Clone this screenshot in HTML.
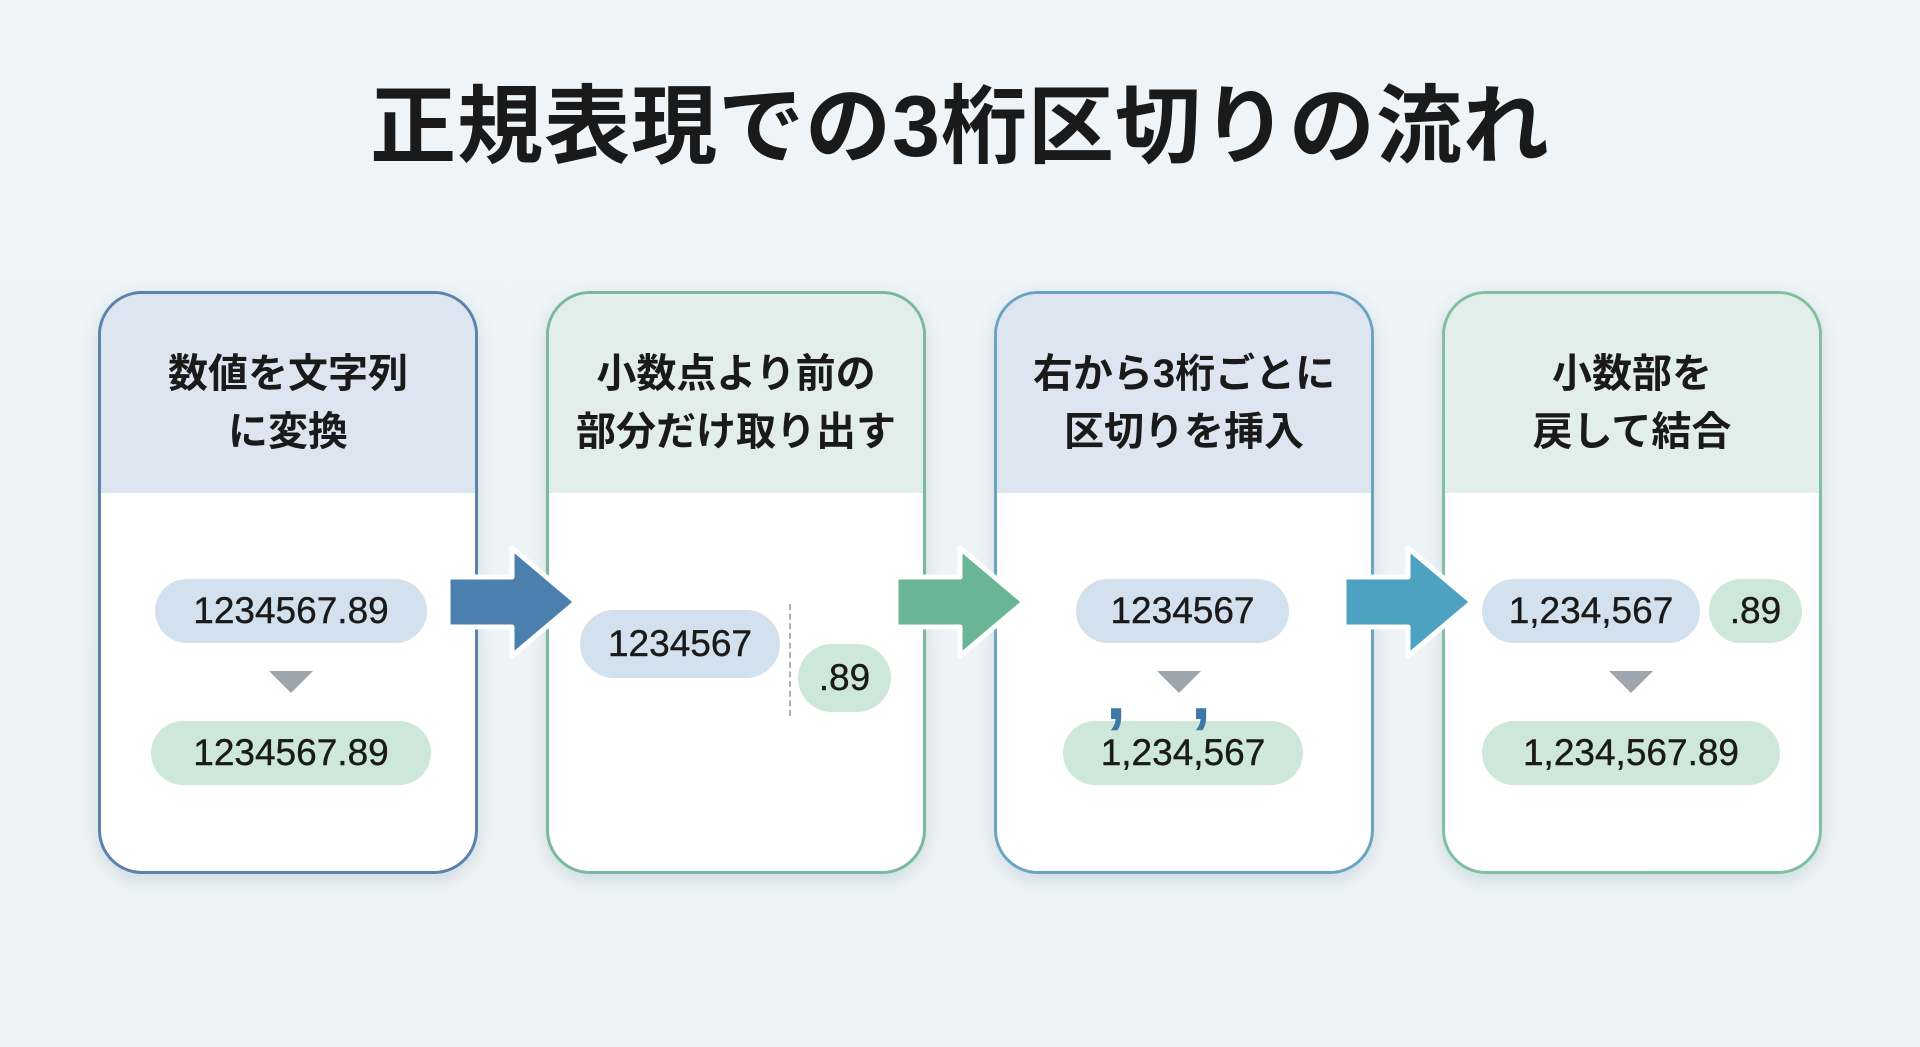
<!DOCTYPE html>
<html><head><meta charset="utf-8"><style>
*{margin:0;padding:0;box-sizing:border-box}
body{width:1920px;height:1047px;background:linear-gradient(180deg,#eef4f7,#ecf3f6);font-family:"Liberation Sans","Noto Sans CJK JP",sans-serif;position:relative;overflow:hidden;color:#1a1a1a}
.title{position:absolute;top:56px;left:0;width:1920px;text-align:center;font-size:86px;font-weight:bold;letter-spacing:1px}
.card{position:absolute;top:291px;width:380px;height:583px;border-radius:44px;border:3px solid;background:#fff;overflow:hidden;box-shadow:0 6px 16px rgba(80,110,130,.18)}
.hd{height:199px;display:flex;align-items:center;justify-content:center;text-align:center;font-size:40px;font-weight:bold;line-height:58px;padding-top:18px}
.pill{position:absolute;height:64px;border-radius:32px;display:flex;align-items:center;justify-content:center;font-size:37px;color:#1a1a1a;-webkit-text-stroke:0.4px #1a1a1a}
.b{background:#d3e1ee}.g{background:#cde8da}
.tri{position:absolute;width:0;height:0;border-left:22px solid transparent;border-right:22px solid transparent;border-top:22px solid #9ea6ad}
.arr{position:absolute;top:542px}
.cm{position:absolute;font-size:72px;font-weight:bold;color:#3f77a6;line-height:1}
</style></head><body>
<div class="title">正規表現での3桁区切りの流れ</div>

<div class="card" style="left:98px;border-color:#5a82aa">
<div class="hd" style="background:#dde6f0">数値を文字列<br>に変換</div>
<div class="pill b" style="left:54px;top:285px;width:272px">1234567.89</div>
<div class="tri" style="left:168px;top:377px"></div>
<div class="pill g" style="left:50px;top:427px;width:280px">1234567.89</div>
</div>

<div class="card" style="left:546px;border-color:#7ab8a0">
<div class="hd" style="background:#e2eee9">小数点より前の<br>部分だけ取り出す</div>
<div class="pill b" style="left:31px;top:316px;width:200px;height:68px;border-radius:34px">1234567</div>
<div style="position:absolute;left:240px;top:310px;height:112px;border-left:2px dashed #aab2b8"></div>
<div class="pill g" style="left:249px;top:350px;width:93px;height:68px;border-radius:34px">.89</div>
</div>

<div class="card" style="left:994px;border-color:#6aa5bf">
<div class="hd" style="background:#dde6f0">右から3桁ごとに<br>区切りを挿入</div>
<div class="pill b" style="left:79px;top:285px;width:213px">1234567</div>
<div class="tri" style="left:160px;top:377px"></div>
<div class="pill g" style="left:66px;top:427px;width:240px">1,234,567</div>
<div class="cm" style="left:109px;top:365px">,</div>
<div class="cm" style="left:194px;top:365px">,</div>
</div>

<div class="card" style="left:1442px;border-color:#80bfa0">
<div class="hd" style="background:#e2eee9">小数部を<br>戻して結合</div>
<div class="pill b" style="left:37px;top:285px;width:218px">1,234,567</div>
<div class="pill g" style="left:264px;top:285px;width:93px">.89</div>
<div class="tri" style="left:164px;top:377px"></div>
<div class="pill g" style="left:37px;top:427px;width:298px">1,234,567.89</div>
</div>

<svg class="arr" style="left:440px" width="150" height="120" viewBox="0 0 150 120"><path d="M8 35H72V6L136 60L72 114V85H8Z" fill="#4a7fae" stroke="#fff" stroke-width="5" stroke-linejoin="round"/></svg>
<svg class="arr" style="left:888px" width="150" height="120" viewBox="0 0 150 120"><path d="M8 35H72V6L136 60L72 114V85H8Z" fill="#6ab596" stroke="#fff" stroke-width="5" stroke-linejoin="round"/></svg>
<svg class="arr" style="left:1336px" width="150" height="120" viewBox="0 0 150 120"><path d="M8 35H72V6L136 60L72 114V85H8Z" fill="#4ca2c0" stroke="#fff" stroke-width="5" stroke-linejoin="round"/></svg>
</body></html>
